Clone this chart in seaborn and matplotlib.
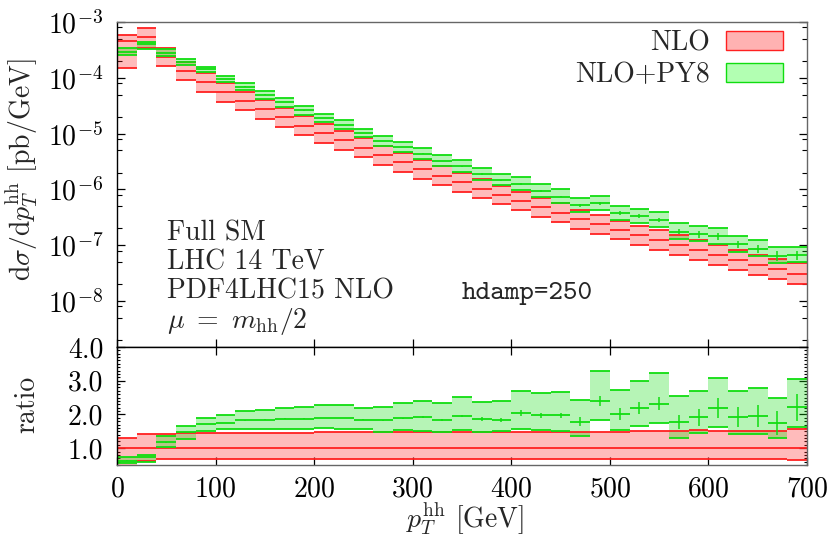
import numpy as np
import pandas as pd
import seaborn as sns
import matplotlib
matplotlib.use('Agg')
import matplotlib.pyplot as plt
from matplotlib.patches import Patch
from matplotlib.ticker import LogLocator, MultipleLocator, FormatStrFormatter, NullFormatter

# p_T^hh bins, 20 GeV wide
bin_lo = np.arange(0, 700, 20)
bin_w = 20

# NLO central value [pb/GeV]
nlo = [4.57e-4, 5.46e-4, 2.39e-4, 1.32e-4, 8.3e-5, 5.5e-5, 3.84e-5, 2.72e-5, 1.96e-5,
       1.39e-5, 1.01e-5, 7.6e-6, 5.6e-6, 4.08e-6, 3.06e-6, 2.29e-6, 1.75e-6, 1.34e-6,
       1.02e-6, 7.9e-7, 6.2e-7, 4.78e-7, 3.78e-7, 2.91e-7, 2.37e-7, 1.87e-7, 1.50e-7,
       1.24e-7, 9.95e-8, 8.2e-8, 6.6e-8, 5.43e-8, 4.42e-8, 3.74e-8, 3.05e-8]
# NLO scale band relative to central
nlo_up = [1.30, 1.41, 1.42, 1.45, 1.45, 1.45, 1.45, 1.46, 1.46, 1.46, 1.47, 1.48, 1.48,
          1.49, 1.49, 1.48, 1.49, 1.49, 1.48, 1.47, 1.48, 1.48, 1.48, 1.47, 1.48, 1.47,
          1.50, 1.50, 1.52, 1.54, 1.51, 1.52, 1.52, 1.50, 1.57]
nlo_dn = [0.33, 0.62, 0.68, 0.69, 0.68, 0.68, 0.68, 0.68, 0.68, 0.68, 0.68, 0.68, 0.68,
          0.68, 0.68, 0.68, 0.68, 0.68, 0.68, 0.68, 0.68, 0.68, 0.68, 0.68, 0.68, 0.68,
          0.67, 0.67, 0.67, 0.67, 0.67, 0.67, 0.67, 0.67, 0.66]
# NLO+PY8 / NLO central
py8_r = [0.63, 0.73, 1.17, 1.48, 1.71, 1.74, 1.82, 1.84, 1.87, 1.87, 1.89, 1.89, 1.84,
         1.82, 1.88, 1.92, 1.84, 1.95, 1.86, 1.84, 2.04, 1.97, 1.97, 1.79, 2.39, 2.01,
         2.19, 2.32, 1.77, 1.92, 2.20, 1.92, 1.96, 1.74, 2.21]
py8_up = [0.75, 0.81, 1.35, 1.66, 1.89, 1.99, 2.11, 2.14, 2.19, 2.21, 2.27, 2.27, 2.20,
          2.22, 2.34, 2.41, 2.34, 2.52, 2.37, 2.39, 2.69, 2.64, 2.67, 2.42, 3.28, 2.72,
          2.99, 3.24, 2.54, 2.69, 3.09, 2.69, 2.79, 2.49, 3.04]
py8_dn = [0.55, 0.60, 1.03, 1.28, 1.51, 1.56, 1.56, 1.56, 1.56, 1.56, 1.59, 1.56, 1.56,
          1.47, 1.54, 1.51, 1.49, 1.54, 1.47, 1.50, 1.56, 1.54, 1.51, 1.37, 1.82, 1.54,
          1.66, 1.74, 1.30, 1.45, 1.62, 1.42, 1.43, 1.29, 1.64]
# statistical error of NLO+PY8 (ratio units)
py8_stat = [0.005, 0.005, 0.005, 0.005, 0.005, 0.005, 0.005, 0.01, 0.01, 0.01, 0.01, 0.01,
            0.015, 0.02, 0.02, 0.02, 0.03, 0.04, 0.06, 0.05, 0.08, 0.07, 0.07, 0.12, 0.15,
            0.17, 0.18, 0.20, 0.20, 0.25, 0.30, 0.30, 0.33, 0.35, 0.40]

df = pd.DataFrame({'lo': bin_lo, 'nlo': nlo, 'nlo_up': nlo_up, 'nlo_dn': nlo_dn,
                   'r': py8_r, 'r_up': py8_up, 'r_dn': py8_dn, 'stat': py8_stat})
df['hi'] = df['lo'] + bin_w
df['mid'] = df['lo'] + bin_w / 2

sns.set_theme(style='ticks')
plt.rcParams['font.family'] = 'serif'
plt.rcParams['font.serif'] = ['cmr10']
plt.rcParams['mathtext.fontset'] = 'cm'
plt.rcParams['axes.formatter.use_mathtext'] = True

red = '#ff2020'
green = '#10dd10'
fs = 20

fig = plt.figure(figsize=(8.3, 5.37), dpi=100)
ax1 = fig.add_axes([0.141, 0.3538, 0.8313, 0.6052])
ax2 = fig.add_axes([0.141, 0.1341, 0.8313, 0.2197], sharex=ax1)

def draw_bands(ax, c, c_lo, c_hi, color):
    # one shaded box per bin, with lines at lower / central / upper value
    ax.bar(df['lo'], c_hi - c_lo, bottom=c_lo, width=bin_w, align='edge',
           color=color, alpha=0.3, linewidth=0)
    for v in (c_lo, c, c_hi):
        ax.hlines(v, df['lo'], df['hi'], colors=color, lw=1.3)

# top panel: absolute
n = df['nlo']
draw_bands(ax1, n, n * df['nlo_dn'], n * df['nlo_up'], red)
draw_bands(ax1, n * df['r'], n * df['r_dn'], n * df['r_up'], green)
ax1.errorbar(df['mid'], n * df['r'], yerr=n * df['stat'], fmt='none', ecolor=green, elinewidth=1.1)

# ratio panel
one = df['nlo'] / df['nlo']
draw_bands(ax2, one, df['nlo_dn'], df['nlo_up'], red)
draw_bands(ax2, df['r'], df['r_dn'], df['r_up'], green)
ax2.errorbar(df['mid'], df['r'], yerr=df['stat'], fmt='none', ecolor=green, elinewidth=1.1)

ax1.set_yscale('log')
ax1.set_ylim(10 ** -8.824, 1e-3)
ax1.set_xlim(0, 700)
ax1.yaxis.set_major_locator(LogLocator(base=10, numticks=20))
ax1.yaxis.set_minor_locator(LogLocator(base=10, subs=[2, 5, 8], numticks=20))
ax1.yaxis.set_minor_formatter(NullFormatter())

ax2.set_ylim(0.5, 4.0)
ax2.yaxis.set_major_locator(MultipleLocator(1.0))
ax2.yaxis.set_minor_locator(MultipleLocator(0.1))
ax2.yaxis.set_major_formatter(FormatStrFormatter('%.1f'))
ax2.xaxis.set_major_locator(MultipleLocator(100))

for ax in (ax1, ax2):
    ax.tick_params(which='both', direction='in', left=True, right=True, colors='black',
                   labelsize=fs)
    ax.tick_params(which='major', length=6, width=0.9)
    ax.tick_params(which='minor', length=3.5, width=0.8)
    ax.tick_params(axis='y', pad=10)
    ax.tick_params(axis='x', pad=8)
    for s in ax.spines.values():
        s.set_linewidth(1.0)
        s.set_color('black')
ax1.tick_params(axis='x', which='both', bottom=True, top=False, labelbottom=False)
ax2.tick_params(axis='x', which='both', bottom=True, top=True)
ax2.tick_params(axis='y', which='minor', length=2.5)
ax1.spines['top'].set_color('#666666')
ax1.spines['right'].set_color('#666666')
ax2.spines['right'].set_color('#666666')
ax2.spines['bottom'].set_color('#666666')

ax1.set_ylabel(r'$\mathrm{d}\sigma/\mathrm{d}p_T^{\mathrm{hh}}$ [pb/GeV]', fontsize=fs)
ax1.yaxis.set_label_coords(-0.112, 0.545)
ax2.set_ylabel('ratio', fontsize=fs)
ax2.yaxis.set_label_coords(-0.112, 0.51)
ax2.set_xlabel(r'$p_T^{\mathrm{hh}}$ [GeV]', fontsize=fs)
ax2.xaxis.set_label_coords(0.504, -0.30)

info = ['Full SM', 'LHC 14 TeV', 'PDF4LHC15 NLO', r'$\mu\ =\ m_{\mathrm{hh}}/2$']
for i, t in enumerate(info):
    ax1.text(0.0725, 0.329 - i * 0.0905, t, transform=ax1.transAxes, fontsize=fs,
             va='baseline', ha='left')
ax1.text(0.5, 0.148, 'hdamp=250', transform=ax1.transAxes, fontsize=fs,
         family='cmtt10', va='baseline', ha='left')

handles = [Patch(facecolor=(1, 0, 0, 0.3), edgecolor=red, lw=1.0),
           Patch(facecolor=(0, 1, 0, 0.3), edgecolor=green, lw=1.0)]
ax1.legend(handles, ['NLO', 'NLO+PY8'], loc='upper right', bbox_to_anchor=(0.965, 0.975),
           frameon=False, markerfirst=False, fontsize=fs, handlelength=2.05,
           handleheight=0.65, handletextpad=0.58, labelspacing=0.2, borderpad=0,
           borderaxespad=0)

fig.savefig('out.png', dpi=100)
